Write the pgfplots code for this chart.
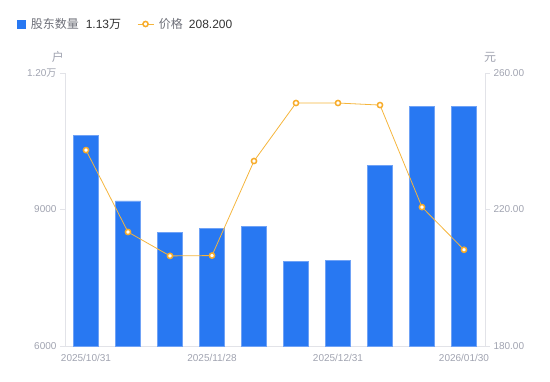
\documentclass[border=0pt]{standalone}
\usepackage{fontspec}
\setmainfont{Liberation Sans}
\newfontfamily\cjk{Noto Sans CJK SC}
\usepackage{pgfplots}
\pgfplotsset{compat=1.18}
\definecolor{barblue}{HTML}{2878F2}
\definecolor{baredge}{HTML}{6FA2F6}
\definecolor{lineor}{HTML}{F5B53C}
\definecolor{markor}{HTML}{F7AC2A}
\definecolor{ticklab}{HTML}{A0A3B0}
\definecolor{axgray}{HTML}{E2E3E8}
\definecolor{legtext}{HTML}{6E7079}
\definecolor{valtext}{HTML}{333333}
\begin{document}
\begin{tikzpicture}
\path[use as bounding box] (-65pt,-35pt) rectangle (485pt,346pt);
\begin{axis}[
  at={(0pt,0pt)}, anchor=south west, scale only axis, width=420pt, height=273pt,
  xmin=-0.5, xmax=9.5, ymin=6000, ymax=12000,
  scaled y ticks=false,
  axis x line*=bottom, axis y line*=left, axis line style={draw=axgray,-},
  xtick={0,3,6,9}, xticklabels={2025/10/31,2025/11/28,2025/12/31,2026/01/30},
  ytick={6000,9000,12000}, yticklabels={6000,9000,{1.20{\cjk 万}}},
  tick align=outside, major tick length=5pt,
  ytick style={draw=axgray}, xtick style={draw=none},
  ticklabel style={font=\fontsize{10}{12}\selectfont, text=ticklab},
  legend columns=-1,
  legend style={draw=none, fill=none, inner sep=0pt,
    at={(axis description cs:-0.1143,1.1795)}, anchor=west,
    font=\fontsize{12}{14}\selectfont, text=legtext,
    /tikz/every even column/.append style={column sep=14pt}},
]
\addplot[ybar, bar width=25pt, fill=barblue, draw=baredge, line width=0.6pt,
  legend image code/.code={\fill[barblue] (0pt,-4pt) rectangle (8pt,4pt);}]
  coordinates {(0,10637) (1,9187) (2,8505) (3,8593) (4,8637) (5,7868) (6,7890) (7,9978) (8,11260) (9,11260)};
\addlegendentry{\hspace{3pt}{\cjk 股东数量}\hspace{7pt}\textcolor{valtext}{1.13{\cjk 万}}}
\addlegendimage{draw=lineor, line width=0.8pt,
  legend image code/.code={\draw[lineor, line width=0.8pt] (0pt,0pt) -- (16pt,0pt);
    \draw[markor, fill=white, line width=1.5pt] (8pt,0pt) circle (2.6pt);}}
\addlegendentry{\hspace{3pt}{\cjk 价格}\hspace{6pt}\textcolor{valtext}{208.200}}
\end{axis}
\begin{axis}[
  at={(0pt,0pt)}, anchor=south west, scale only axis, width=420pt, height=273pt,
  xmin=-0.5, xmax=9.5, ymin=180, ymax=260,
  axis x line=none, axis y line*=right, axis line style={draw=axgray,-},
  ytick={180,220,260}, yticklabels={180.00,220.00,260.00},
  tick align=outside, major tick length=5pt,
  ytick style={draw=axgray},
  ticklabel style={font=\fontsize{10}{12}\selectfont, text=ticklab},
]
\addplot[draw=lineor, line width=0.8pt, mark=*, mark size=2.6pt,
  mark options={fill=white, draw=markor, line width=1.5pt}]
  coordinates {(0,237.4) (1,213.4) (2,206.4) (3,206.5) (4,234.2) (5,251.2) (6,251.2) (7,250.6) (8,220.7) (9,208.2)};
\end{axis}
\node[text=ticklab, font=\cjk\fontsize{12}{14}\selectfont] at (-7pt,289pt) {户};
\node[text=ticklab, font=\cjk\fontsize{12}{14}\selectfont] at (425pt,289pt) {元};
\end{tikzpicture}
\end{document}
